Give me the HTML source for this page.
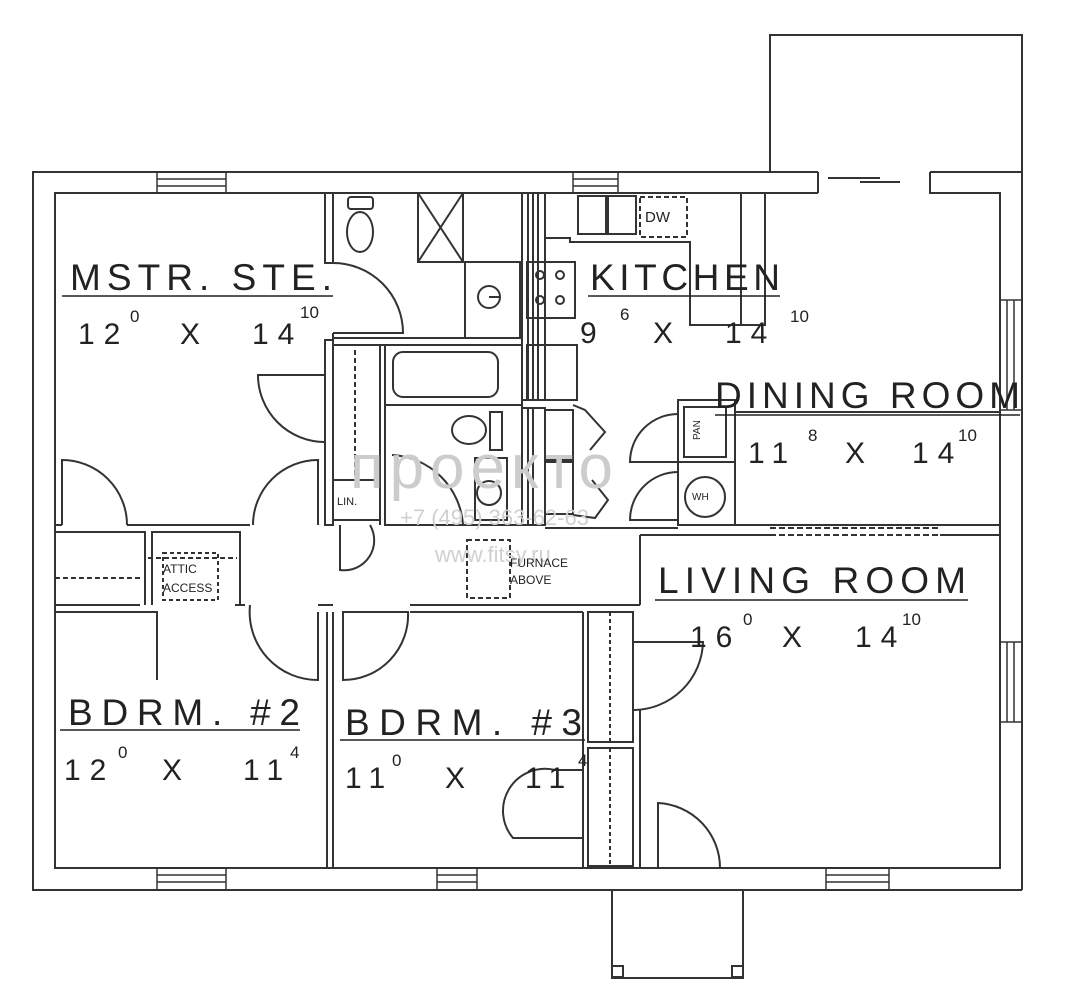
<!DOCTYPE html>
<html><head><meta charset="utf-8"><style>
html,body{margin:0;padding:0;background:#fff;}
svg{display:block}
text{font-family:"Liberation Sans",sans-serif;fill:#222}
.n{letter-spacing:9px}
</style></head><body>
<svg width="1074" height="1000" viewBox="0 0 1074 1000" xmlns="http://www.w3.org/2000/svg">
<g fill="none" stroke="#333" stroke-width="2">
<polyline points="770,172 770,35 1022,35 1022,890"/>
<polyline points="818,172 33,172 33,890 1022,890"/>
<polyline points="818,172 818,193"/>
<polyline points="930,172 1022,172"/>
<polyline points="930,172 930,193 1000,193 1000,868 55,868 55,193 818,193"/>
<line x1="828" y1="178" x2="880" y2="178"/><line x1="860" y1="182" x2="900" y2="182"/>
<g stroke-width="1.5">
<rect x="157" y="172" width="69" height="21"/><line x1="157" y1="179" x2="226" y2="179"/><line x1="157" y1="186" x2="226" y2="186"/>
<rect x="573" y="172" width="45" height="21"/><line x1="573" y1="179" x2="618" y2="179"/><line x1="573" y1="186" x2="618" y2="186"/>
<rect x="157" y="868" width="69" height="22"/><line x1="157" y1="875" x2="226" y2="875"/><line x1="157" y1="882" x2="226" y2="882"/>
<rect x="437" y="868" width="40" height="22"/><line x1="437" y1="875" x2="477" y2="875"/><line x1="437" y1="882" x2="477" y2="882"/>
<rect x="826" y="868" width="63" height="22"/><line x1="826" y1="875" x2="889" y2="875"/><line x1="826" y1="882" x2="889" y2="882"/>
<rect x="1000" y="300" width="22" height="110"/><line x1="1007" y1="300" x2="1007" y2="410"/><line x1="1014" y1="300" x2="1014" y2="410"/>
<rect x="1000" y="642" width="22" height="80"/><line x1="1007" y1="642" x2="1007" y2="722"/><line x1="1014" y1="642" x2="1014" y2="722"/>
</g>
<polyline points="325,193 325,263 333,263 333,193"/>
<polyline points="325,375 325,340 333,340 333,345"/>
<path d="M333,333 L403,333 A70,70 0 0 0 333,263"/>
<line x1="333" y1="333" x2="333" y2="340"/>
<path d="M325,375 L258,375 A67,67 0 0 0 325,442 Z"/>
<polyline points="325,442 325,525 333,525 333,345"/>
<rect x="418" y="193" width="45" height="69"/><line x1="418" y1="193" x2="463" y2="262"/><line x1="463" y1="193" x2="418" y2="262"/>
<rect x="465" y="262" width="55" height="76"/><circle cx="489" cy="297" r="11"/><line x1="489" y1="297" x2="499" y2="297"/>
<rect x="348" y="197" width="25" height="12" rx="3"/><ellipse cx="360" cy="232" rx="13" ry="20"/>
<line x1="333" y1="338" x2="522" y2="338"/><line x1="333" y1="345" x2="522" y2="345"/>
<line x1="380" y1="345" x2="380" y2="525"/><line x1="355" y1="350" x2="355" y2="478" stroke-dasharray="5,3"/>
<rect x="333" y="480" width="47" height="40"/>
<path d="M340,525 L340,570 A30,30 0 0 0 370,525"/>
<rect x="385" y="345" width="137" height="180"/>
<rect x="393" y="352" width="105" height="45" rx="10"/>
<line x1="385" y1="405" x2="522" y2="405"/>
<ellipse cx="469" cy="430" rx="17" ry="14"/><rect x="490" y="412" width="12" height="38"/>
<rect x="475" y="458" width="32" height="62"/><circle cx="489" cy="493" r="12"/>
<path d="M392,455 A75,75 0 0 1 463,525"/>
<rect x="522" y="193" width="23" height="207"/>
<line x1="528" y1="193" x2="528" y2="400"/><line x1="533" y1="193" x2="533" y2="400"/><line x1="538" y1="193" x2="538" y2="400"/>
<rect x="522" y="408" width="23" height="117"/>
<line x1="528" y1="408" x2="528" y2="525"/><line x1="533" y1="408" x2="533" y2="525"/>
<rect x="527" y="262" width="48" height="56"/><circle cx="540" cy="275" r="4"/><circle cx="560" cy="275" r="4"/><circle cx="540" cy="300" r="4"/><circle cx="560" cy="300" r="4"/>
<rect x="527" y="345" width="50" height="55"/>
<rect x="545" y="410" width="28" height="50"/><rect x="545" y="462" width="28" height="52"/>
<polyline points="573,405 585,410 605,432 590,450"/>
<polyline points="573,515 595,518 608,500 592,480"/>
<polyline points="545,238 570,238 570,242 690,242 690,325 765,325 765,193"/>
<line x1="741" y1="193" x2="741" y2="325"/>
<rect x="578" y="196" width="28" height="38"/><rect x="608" y="196" width="28" height="38"/>
<rect x="640" y="197" width="47" height="40" stroke-dasharray="5,3"/>
<rect x="678" y="400" width="57" height="62"/><rect x="684" y="407" width="42" height="50"/>
<rect x="678" y="462" width="57" height="63"/><circle cx="705" cy="497" r="20"/>
<path d="M678,462 L630,462 A48,48 0 0 1 678,414"/>
<path d="M678,520 L630,520 A48,48 0 0 1 678,472"/>
<line x1="735" y1="412" x2="1000" y2="412"/><line x1="735" y1="412" x2="735" y2="525"/>
<polyline points="735,525 1000,525"/>
<line x1="545" y1="528" x2="678" y2="528"/>
<line x1="640" y1="535" x2="640" y2="605"/>
<line x1="640" y1="535" x2="770" y2="535"/><line x1="940" y1="535" x2="1000" y2="535"/>
<line x1="770" y1="528" x2="940" y2="528" stroke-dasharray="6,3"/><line x1="770" y1="535" x2="940" y2="535" stroke-dasharray="6,3"/>
<rect x="467" y="540" width="43" height="58" stroke-dasharray="5,3"/>
<polyline points="55,525 62,525"/>
<path d="M62,525 L62,460 A65,65 0 0 1 127,525"/>
<line x1="127" y1="525" x2="250" y2="525"/>
<path d="M318,525 L318,460 A65,65 0 0 0 253,525"/>
<polyline points="55,532 145,532 145,605"/><line x1="55" y1="605" x2="140" y2="605"/>
<line x1="55" y1="578" x2="140" y2="578" stroke-dasharray="5,3"/>
<polyline points="152,605 152,532 240,532 240,605"/>
<line x1="148" y1="558" x2="237" y2="558" stroke-dasharray="5,3"/>
<rect x="163" y="553" width="55" height="47" stroke-dasharray="4,3"/>
<polyline points="55,612 157,612 157,680 A65,65 0 0 0 222,612"/>
<line x1="235" y1="605" x2="245" y2="605"/>
<path d="M250,605 A68,68 0 0 0 318,680 L318,612"/>
<polyline points="318,605 333,605"/>
<line x1="327" y1="612" x2="327" y2="868"/><line x1="333" y1="612" x2="333" y2="868"/>
<path d="M343,612 L343,680 A65,65 0 0 0 408,612 Z"/>
<line x1="410" y1="605" x2="640" y2="605"/><line x1="410" y1="612" x2="583" y2="612"/>
<line x1="583" y1="612" x2="583" y2="868"/>
<rect x="588" y="612" width="45" height="130"/><line x1="610" y1="612" x2="610" y2="742" stroke-dasharray="4,3"/>
<rect x="588" y="748" width="45" height="118"/><line x1="610" y1="748" x2="610" y2="866" stroke-dasharray="4,3"/>
<path d="M583,770 L555,770 A42,42 0 0 0 513,838 L583,838"/>
<path d="M633,642 L703,642 A70,70 0 0 1 633,710"/>
<line x1="640" y1="710" x2="640" y2="868"/>
<path d="M658,868 L658,803 A65,65 0 0 1 720,868"/>
<polyline points="612,890 612,978 743,978 743,890"/>
<rect x="612" y="966" width="11" height="11"/><rect x="732" y="966" width="11" height="11"/>
</g>
<text x="350" y="488" font-size="62" style="fill:#cccccc" letter-spacing="6">проекто</text>
<text x="400" y="525" font-size="22" style="fill:#d0d0d0">+7 (495) 363-62-63</text>
<text x="435" y="562" font-size="22" style="fill:#d0d0d0">www.fitsy.ru</text>
<g stroke="#222" stroke-width="1.5">
<line x1="62" y1="296" x2="333" y2="296"/><line x1="588" y1="296" x2="780" y2="296"/>
<line x1="715" y1="415" x2="1020" y2="415"/><line x1="655" y1="600" x2="968" y2="600"/>
<line x1="60" y1="730" x2="300" y2="730"/><line x1="340" y1="740" x2="585" y2="740"/>
</g>
<text x="70" y="290" font-size="37" textLength="262" lengthAdjust="spacing">MSTR. STE.</text>
<text class="n" x="78" y="344" font-size="30">12</text><text x="130" y="322" font-size="17">0</text><text x="180" y="344" font-size="30">X</text><text class="n" x="252" y="344" font-size="30">14</text><text x="300" y="318" font-size="17">10</text>
<text x="590" y="290" font-size="37" textLength="190" lengthAdjust="spacing">KITCHEN</text>
<text x="580" y="343" font-size="30">9</text><text x="620" y="320" font-size="17">6</text><text x="653" y="343" font-size="30">X</text><text class="n" x="725" y="343" font-size="30">14</text><text x="790" y="322" font-size="17">10</text>
<text x="715" y="408" font-size="37" textLength="305" lengthAdjust="spacing">DINING ROOM</text>
<text class="n" x="748" y="463" font-size="30">11</text><text x="808" y="441" font-size="17">8</text><text x="845" y="463" font-size="30">X</text><text class="n" x="912" y="463" font-size="30">14</text><text x="958" y="441" font-size="17">10</text>
<text x="658" y="593" font-size="37" textLength="308" lengthAdjust="spacing">LIVING ROOM</text>
<text class="n" x="690" y="647" font-size="30">16</text><text x="743" y="625" font-size="17">0</text><text x="782" y="647" font-size="30">X</text><text class="n" x="855" y="647" font-size="30">14</text><text x="902" y="625" font-size="17">10</text>
<text x="68" y="725" font-size="37" textLength="232" lengthAdjust="spacing">BDRM. #2</text>
<text class="n" x="64" y="780" font-size="30">12</text><text x="118" y="758" font-size="17">0</text><text x="162" y="780" font-size="30">X</text><text class="n" x="243" y="780" font-size="30">11</text><text x="290" y="758" font-size="17">4</text>
<text x="345" y="735" font-size="37" textLength="237" lengthAdjust="spacing">BDRM. #3</text>
<text class="n" x="345" y="788" font-size="30">11</text><text x="392" y="766" font-size="17">0</text><text x="445" y="788" font-size="30">X</text><text class="n" x="525" y="788" font-size="30">11</text><text x="578" y="766" font-size="17">4</text>
<text x="337" y="505" font-size="11">LIN.</text>
<text x="163" y="573" font-size="12">ATTIC</text><text x="163" y="592" font-size="12">ACCESS</text>
<text x="510" y="567" font-size="12">FURNACE</text><text x="510" y="584" font-size="12">ABOVE</text>
<text x="645" y="222" font-size="15">DW</text>
<text x="692" y="500" font-size="10">WH</text>
<text x="700" y="440" font-size="10" transform="rotate(-90 700 440)">PAN</text>
</svg>
</body></html>
